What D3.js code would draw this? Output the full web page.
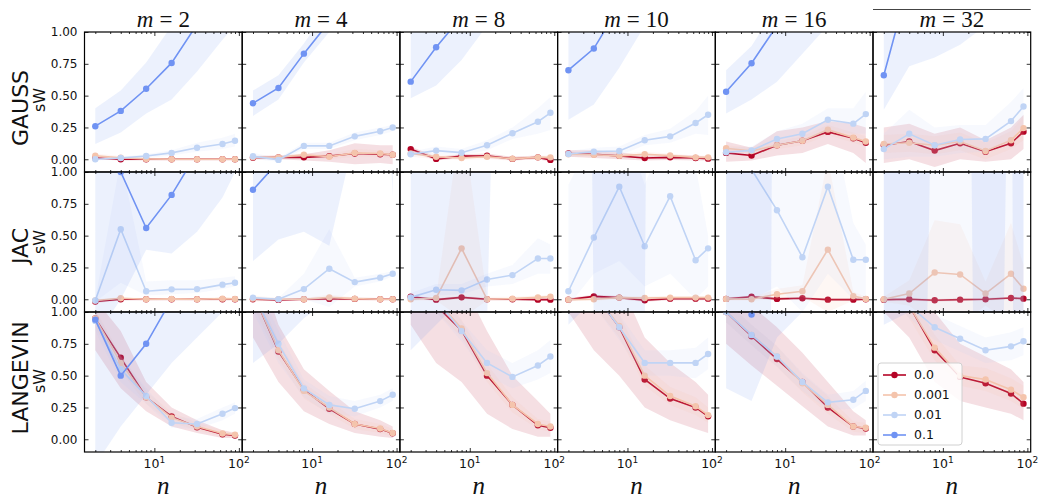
<!DOCTYPE html>
<html>
<head>
<meta charset="utf-8">
<script src="https://cdn.jsdelivr.net/npm/d3@7"></script>
<style>
  body { margin: 0; background: #fff; }
  svg { font-family: "DejaVu Sans", sans-serif; }
</style>
</head>
<body>
<svg id="chart" width="1045" height="501"></svg>
<script>
// sample sizes on the x axis and the panel layout
const ns = [2, 4, 8, 16, 32, 64, 90];
const ms = [2, 4, 8, 10, 16, 32];
const methods = ["GAUSS", "JAC", "LANGEVIN"];
const noiseLevels = ["0.0", "0.001", "0.01", "0.1"];
const seriesColors = ["#b40426", "#f4c4ac", "#c0d4f5", "#7093f3"];
const yTicks = [0, 0.25, 0.5, 0.75, 1.0];
const xMajor = [10, 100];
const xMajorLabels = [["10", "1"], ["10", "2"]];
const xMinor = [2, 3, 4, 5, 6, 7, 8, 9, 20, 30, 40, 50, 60, 70, 80, 90];

// sW means and band bounds: [m][noise level][n]
const gaussMean = [
  [[0.01,0,0,0,0,0,0],[0.028,0.012,0.003,0,0,0,0],[0,0.01,0.026,0.05,0.09,0.12,0.145],[0.26,0.38,0.554,0.757,1.06,1.4,1.7]],
  [[0.012,0.015,0.015,0.025,0.045,0.04,0.035],[0.015,0.015,0.035,0.02,0.05,0.045,0.035],[0.024,-0.005,0.105,0.105,0.18,0.22,0.25],[0.44,0.56,0.83,1.08,1.4,1.8,2.1]],
  [[0.08,0.003,0.025,0.028,0.003,0.015,-0.005],[0.045,0.02,0.01,0.02,0.005,0.015,0.015],[0.04,0.068,0.052,0.11,0.205,0.295,0.365],[0.61,0.88,1.12,1.4,1.7,2.0,2.2]],
  [[0.045,0.04,0.027,0.01,0.015,0.01,0.005],[0.04,0.035,0.027,0.04,0.03,0.015,0.015],[0.042,0.06,0.065,0.15,0.18,0.285,0.35],[0.70,0.87,1.2,1.4,1.7,2.0,2.2]],
  [[0.05,0.03,0.11,0.145,0.215,0.165,0.13],[0.087,0.065,0.11,0.145,0.233,0.17,0.14],[0.055,0.07,0.16,0.2,0.31,0.28,0.355],[0.53,0.755,1.05,1.35,1.7,2.0,2.2]],
  [[0.11,0.14,0.068,0.126,0.06,0.126,0.217],[0.12,0.13,0.11,0.14,0.065,0.15,0.245],[0.08,0.2,0.11,0.155,0.16,0.3,0.415],[0.66,1.4,1.5,1.8,2.0,2.2,2.4]]
];
const gaussLow = [
  [[0,-0.01,-0.01,-0.01,-0.01,-0.01,-0.01],[0.01,0,-0.005,-0.01,-0.01,-0.01,-0.01],[-0.01,0,0.01,0.03,0.06,0.08,0.1],[0.12,0.21,0.36,0.47,0.69,0.94,1.05]],
  [[0,0,-0.01,-0.02,-0.04,-0.03,-0.04],[0,0,0.02,0,0.02,0.02,0.01],[0,-0.02,0.08,0.08,0.15,0.19,0.22],[0.34,0.47,0.76,1.0,1.2,1.5,1.8]],
  [[0.06,-0.01,0.01,0.01,-0.01,0,-0.02],[0.02,0,-0.005,0,-0.01,0,0],[0.02,0.04,0.03,0.07,0.16,0.2,0.23],[0.48,0.58,0.78,1.05,1.3,1.6,1.8]],
  [[0.02,0.01,0,-0.01,-0.005,-0.01,-0.01],[0.02,0.015,0.01,0.02,0.015,0,0],[0.02,0.03,0.03,0.11,0.13,0.2,0.19],[0.31,0.43,0.72,1.05,1.3,1.6,1.8]],
  [[-0.02,-0.01,0.03,0.05,0.12,0.05,-0.03],[0.06,0.04,0.08,0.11,0.19,0.13,0.1],[0.03,0.05,0.1,0.14,0.22,0.2,0.2],[0.36,0.47,0.61,0.83,1.05,1.3,1.5]],
  [[-0.03,0,-0.06,0,-0.02,0,0.08],[0.05,0.06,0.04,0.07,0,0.08,0.15],[0,0.02,0.02,0.05,0.06,0.15,0.28],[0.39,0.73,0.8,0.9,1.05,1.2,1.4]]
];
const gaussHigh = [
  [[0.02,0.01,0.01,0.01,0.01,0.01,0.01],[0.045,0.025,0.012,0.01,0.01,0.01,0.01],[0.01,0.02,0.04,0.07,0.13,0.17,0.2],[0.40,0.54,0.76,1.05,1.4,1.8,2.1]],
  [[0.025,0.03,0.04,0.07,0.125,0.11,0.11],[0.03,0.03,0.05,0.04,0.08,0.07,0.06],[0.05,0.01,0.13,0.13,0.21,0.25,0.27],[0.54,0.66,0.91,1.2,1.6,2.1,2.4]],
  [[0.1,0.02,0.04,0.045,0.02,0.03,0.01],[0.07,0.04,0.025,0.04,0.02,0.03,0.03],[0.06,0.1,0.08,0.15,0.25,0.4,0.49],[0.99,1.25,1.5,1.8,2.1,2.4,2.6]],
  [[0.07,0.07,0.055,0.03,0.035,0.03,0.02],[0.06,0.055,0.045,0.06,0.045,0.03,0.03],[0.065,0.09,0.1,0.19,0.24,0.38,0.5],[1.1,1.3,1.5,1.8,2.1,2.4,2.6]],
  [[0.14,0.09,0.22,0.25,0.3,0.28,0.25],[0.11,0.09,0.14,0.18,0.27,0.21,0.18],[0.09,0.1,0.22,0.28,0.4,0.4,0.53],[0.70,0.89,1.2,1.5,1.9,2.2,2.5]],
  [[0.25,0.28,0.2,0.25,0.15,0.25,0.35],[0.19,0.2,0.18,0.21,0.13,0.22,0.34],[0.2,0.39,0.25,0.27,0.27,0.45,0.56],[1.5,1.8,2.0,2.2,2.4,2.6,2.8]]
];

const jacMean = [
  [[-0.018,0,0,0,0,0,0],[-0.01,0.008,0,0.003,0,0.005,0.003],[-0.01,0.55,0.063,0.078,0.08,0.115,0.13],[1.3,1.0,0.56,0.82,1.15,1.3,1.4]],
  [[0,-0.005,0,0.003,0.003,0,0],[0.005,0,0,0.015,0.005,0,0],[0.013,0,0.08,0.24,0.135,0.17,0.2],[0.86,1.08,1.3,1.5,1.7,3.3,2.0]],
  [[0.02,-0.003,0.015,0,0,-0.003,-0.003],[0,0.01,0.4,0,0.005,0.015,0.02],[0.015,0.075,0.07,0.155,0.19,0.32,0.32],[1.5,2.0,2.5,3.0,10,11,12]],
  [[-0.003,0.023,0.013,-0.008,0.005,0.005,0.005],[-0.003,0,0.013,0.01,0.013,0.013,0.013],[0.063,0.485,0.885,0.417,0.81,0.307,0.4],[21,1.5,1.5,1.5,31,32,33]],
  [[0.003,0.02,0.003,0.008,-0.003,-0.003,0],[0.003,0,0.04,0.063,0.39,0.025,0.003],[1.2,1.02,0.7,0.33,0.885,0.31,0.31],[1.5,1.5,10,11,12,13,14]],
  [[-0.003,0,-0.008,-0.003,0,0.01,0.005],[0,0.045,0.21,0.195,0.045,0.2,0.083],[1.3,1.5,1.6,1.7,1.8,1.9,2.0],[2,2,5,11,2,5,2]]
];
const jacLow = [
  [[-0.03,-0.01,-0.01,-0.01,-0.01,-0.01,-0.01],[-0.02,0,-0.01,-0.005,-0.01,-0.005,-0.005],[-0.02,0.13,0.03,0.04,0.05,0.08,0.1],[-0.3,0,0.39,0.36,0.53,0.8,1.0]],
  [[-0.01,-0.015,-0.01,-0.007,-0.007,-0.01,-0.01],[-0.02,-0.01,-0.01,-0.005,-0.005,-0.01,-0.01],[0,-0.01,0,-0.06,0.1,0.14,0.18],[0.3,0.47,0.53,0.42,1.29,3.0,0.8]],
  [[0.01,-0.013,0.005,-0.01,-0.01,-0.013,-0.013],[-0.01,-0.01,-0.15,-0.01,-0.01,0,0],[-0.02,0.03,0.04,0.1,0.12,0.2,0.2],[-0.3,-0.3,-0.3,-0.2,8,9,10]],
  [[-0.015,0.01,0,-0.02,-0.008,-0.008,-0.008],[-0.015,-0.012,0,-0.003,0,0,0],[-0.05,0.2,0.3,0.1,0.2,0,0.1],[20,-0.3,-0.3,-0.3,30,31,32]],
  [[-0.007,0.01,-0.007,-0.002,-0.013,-0.013,-0.01],[-0.01,-0.01,0,0.02,-0.1,-0.01,-0.01],[0,0,0.1,-0.1,0.2,0,0],[-0.3,-30,9,10,11,12,13]],
  [[-0.013,-0.01,-0.018,-0.013,-0.01,0,-0.005],[-0.02,-0.05,-0.2,-0.2,-0.05,-0.2,-0.1],[-0.3,-0.3,-0.3,-0.3,-0.3,-0.3,-0.3],[-0.3,-8,3.1,10,-10,3.75,-20]]
];
const jacHigh = [
  [[-0.005,0.01,0.01,0.01,0.01,0.01,0.01],[0,0.016,0.01,0.01,0.01,0.015,0.01],[0,1.1,0.14,0.15,0.15,0.17,0.18],[2.5,2.2,1.3,1.5,1.8,2.0,2.2]],
  [[0.01,0.005,0.01,0.013,0.013,0.01,0.01],[0.03,0.01,0.01,0.035,0.015,0.01,0.01],[0.02,0.01,0.2,0.55,0.17,0.2,0.22],[1.8,2.0,2.2,2.4,2.6,3.5,3.2]],
  [[0.03,0.007,0.025,0.01,0.01,0.007,0.007],[0.01,0.02,1.45,0.02,0.02,0.03,0.035],[0.05,0.12,0.12,0.2,0.27,0.48,0.43],[3,4,5,6,12,13,14]],
  [[0.01,0.035,0.025,0.005,0.018,0.018,0.018],[0.01,0.012,0.025,0.023,0.025,0.025,0.025],[0.9,1.3,1.5,0.9,1.4,1.05,0.5],[22,3.3,3.3,3.3,32,33,34]],
  [[0.013,0.03,0.013,0.018,0.007,0.007,0.01],[0.02,0.015,0.08,0.11,1.1,0.06,0.02],[2.0,2.0,1.5,1.2,1.6,0.6,0.43],[3.3,3.3,12,13,14,15,16]],
  [[0.007,0.01,0.002,0.007,0.01,0.02,0.015],[0.02,0.15,0.62,0.59,0.14,0.6,0.27],[3,3,3,3,3,3,3],[5,12,8,12,14,8,24]]
];

const langevinMean = [
  [[0.95,0.64,0.33,0.18,0.095,0.04,0.03],[0.95,0.6,0.33,0.17,0.1,0.045,0.035],[0.93,0.55,0.34,0.13,0.12,0.2,0.245],[0.94,0.5,0.75,1.1,1.3,1.5,1.7]],
  [[1.15,0.69,0.39,0.24,0.12,0.08,0.047],[1.15,0.7,0.38,0.25,0.12,0.085,0.05],[1.15,0.75,0.4,0.27,0.24,0.3,0.35],[1.5,1.7,1.9,2.1,2.3,2.5,2.6]],
  [[1.4,1.05,0.855,0.5,0.27,0.11,0.09],[1.4,1.1,0.87,0.52,0.27,0.12,0.1],[1.4,1.1,0.85,0.6,0.49,0.58,0.65],[2.0,2.2,2.4,2.6,2.8,3.0,3.1]],
  [[1.5,1.15,0.88,0.47,0.32,0.25,0.18],[1.5,1.15,0.89,0.5,0.34,0.26,0.19],[1.5,1.15,0.88,0.6,0.6,0.6,0.67],[2.0,2.2,2.4,2.6,2.8,3.0,3.1]],
  [[1.0,0.81,0.63,0.45,0.25,0.1,0.085],[1.0,0.82,0.65,0.44,0.27,0.1,0.09],[1.0,0.82,0.65,0.45,0.29,0.31,0.38],[1.3,0.98,1.4,1.7,2.0,2.2,2.4]],
  [[1.3,1.05,0.7,0.49,0.44,0.36,0.28],[1.3,1.05,0.72,0.5,0.47,0.39,0.33],[1.3,1.05,0.88,0.79,0.7,0.73,0.77],[2.0,2.2,2.4,2.6,2.8,3.0,3.1]]
];
const langevinLow = [
  [[0.7,0.4,0.22,0.1,0.05,0.01,0.01],[0.88,0.54,0.28,0.13,0.07,0.02,0.015],[0.85,0.45,0.28,0.09,0.08,0.15,0.2],[-0.2,0.1,0.35,0.6,0.8,1.0,1.2]],
  [[0.8,0.45,0.22,0.12,0.05,0.02,0.01],[1.05,0.63,0.32,0.2,0.08,0.05,0.02],[1.0,0.6,0.33,0.2,0.18,0.25,0.3],[0.6,0.75,0.95,1.1,1.3,1.5,1.6]],
  [[0.9,0.6,0.45,0.2,0.08,0.02,0.02],[1.3,1.0,0.8,0.45,0.21,0.08,0.06],[1.3,1.0,0.77,0.5,0.4,0.47,0.52],[0.7,0.9,1.1,1.3,1.5,1.7,1.8]],
  [[1.0,0.7,0.5,0.25,0.15,0.08,0.05],[1.4,1.05,0.8,0.42,0.27,0.19,0.13],[1.4,1.05,0.78,0.5,0.5,0.48,0.55],[0.9,1.1,1.3,1.5,1.7,1.9,2.0]],
  [[0.75,0.58,0.42,0.26,0.1,0.03,0.03],[0.92,0.74,0.57,0.37,0.2,0.06,0.05],[0.92,0.74,0.57,0.38,0.23,0.24,0.3],[0.4,0.3,0.8,1.0,1.3,1.5,1.6]],
  [[1.0,0.8,0.45,0.3,0.25,0.2,0.15],[1.2,0.95,0.62,0.42,0.38,0.3,0.24],[1.2,0.95,0.78,0.69,0.6,0.62,0.66],[0.9,1.0,1.1,1.3,1.5,1.7,1.8]]
];
const langevinHigh = [
  [[1.1,0.85,0.45,0.25,0.15,0.07,0.05],[1.02,0.66,0.38,0.21,0.13,0.07,0.055],[1.0,0.65,0.4,0.18,0.16,0.25,0.29],[2.0,2.0,2.0,2.0,2.2,2.4,2.6]],
  [[1.5,0.9,0.55,0.38,0.22,0.15,0.1],[1.25,0.77,0.44,0.3,0.16,0.12,0.08],[1.3,0.85,0.47,0.34,0.3,0.35,0.4],[3,3,3,3,3.3,3.5,3.6]],
  [[1.9,1.5,1.25,0.85,0.5,0.3,0.2],[1.5,1.2,0.94,0.59,0.33,0.16,0.14],[1.5,1.2,0.93,0.7,0.6,0.7,0.78],[3.3,3.5,3.7,3.9,4.1,4.3,4.4]],
  [[2.0,1.6,1.25,0.8,0.6,0.45,0.35],[1.6,1.25,0.98,0.58,0.41,0.33,0.25],[1.6,1.25,0.98,0.7,0.7,0.72,0.8],[3.3,3.5,3.7,3.9,4.1,4.3,4.4]],
  [[1.25,1.05,0.88,0.68,0.45,0.22,0.15],[1.08,0.9,0.73,0.51,0.34,0.14,0.13],[1.08,0.9,0.73,0.52,0.35,0.38,0.46],[2.5,2.5,2.5,2.7,3.0,3.2,3.4]],
  [[1.6,1.3,1.0,0.75,0.65,0.55,0.45],[1.4,1.15,0.82,0.58,0.56,0.48,0.42],[1.4,1.15,0.98,0.89,0.8,0.84,0.88],[3.3,3.5,3.7,3.9,4.1,4.3,4.4]]
];

const rowData = [
  { mean: gaussMean, low: gaussLow, high: gaussHigh },
  { mean: jacMean, low: jacLow, high: jacHigh },
  { mean: langevinMean, low: langevinLow, high: langevinHigh }
];

// geometry of the panel grid
const left0 = 84.5, colW = 157.7, top0 = 32, rowH = 140;
const serif = "Liberation Serif, Times New Roman, serif";
const svg = d3.select("#chart");

const x = d3.scaleLog().domain([1.49, 109.5]).range([0, colW]);
const y = d3.scaleLinear().domain([-0.1, 1.0]).range([rowH, 0]);

const line = d3.line().x((d, i) => x(ns[i])).y(d => y(d));

const defs = svg.append("defs");
defs.append("clipPath").attr("id", "panel-clip")
  .append("rect").attr("x", 0).attr("y", 0).attr("width", colW).attr("height", rowH);

methods.forEach((method, r) => {
  ms.forEach((m, c) => {
    const g = svg.append("g")
      .attr("transform", `translate(${left0 + c * colW},${top0 + r * rowH})`);
    const plot = g.append("g").attr("clip-path", "url(#panel-clip)");
    const data = rowData[r];

    noiseLevels.forEach((lvl, s) => {
      const mean = data.mean[c][s], lo = data.low[c][s], hi = data.high[c][s];
      const area = d3.area()
        .x((d, i) => x(ns[i]))
        .y0((d, i) => y(lo[i]))
        .y1((d, i) => y(hi[i]));
      plot.append("path").datum(mean)
        .attr("d", area)
        .attr("fill", seriesColors[s])
        .attr("fill-opacity", 0.13)
        .attr("stroke", "none");
      plot.append("path").datum(mean)
        .attr("d", line)
        .attr("fill", "none")
        .attr("stroke", seriesColors[s])
        .attr("stroke-width", 1.6);
      plot.selectAll(null).data(mean).enter().append("circle")
        .attr("cx", (d, i) => x(ns[i]))
        .attr("cy", d => y(d))
        .attr("r", 3.2)
        .attr("fill", seriesColors[s]);
    });

    // ticks pointing into the panel on all four sides
    const tickStyle = sel => {
      sel.select(".domain").remove();
      sel.selectAll("line").attr("stroke", "#000").attr("stroke-width", 0.8);
    };
    g.append("g").attr("transform", `translate(0,${rowH})`)
      .call(d3.axisBottom(x).tickValues(xMajor).tickSize(-4).tickFormat(() => "")).call(tickStyle);
    g.append("g").attr("transform", `translate(0,${rowH})`)
      .call(d3.axisBottom(x).tickValues(xMinor).tickSize(-2).tickFormat(() => "")).call(tickStyle);
    g.append("g")
      .call(d3.axisTop(x).tickValues(xMajor).tickSize(-4).tickFormat(() => "")).call(tickStyle);
    g.append("g")
      .call(d3.axisTop(x).tickValues(xMinor).tickSize(-2).tickFormat(() => "")).call(tickStyle);
    const yAx = g.append("g")
      .call(d3.axisLeft(y).tickValues(yTicks).tickSize(-4).tickPadding(7)
        .tickFormat(c === 0 ? d3.format(".2f") : () => ""));
    yAx.call(tickStyle);
    yAx.attr("font-family", "DejaVu Sans");
    yAx.selectAll("text").attr("font-size", 12).attr("fill", "#111");
    g.append("g").attr("transform", `translate(${colW},0)`)
      .call(d3.axisRight(y).tickValues(yTicks).tickSize(-4).tickFormat(() => "")).call(tickStyle);

    g.append("rect")
      .attr("width", colW).attr("height", rowH)
      .attr("fill", "none").attr("stroke", "#000").attr("stroke-width", 1.2);

    if (r === methods.length - 1) {
      xMajor.forEach((v, k) => {
        const t = g.append("text")
          .attr("x", x(v)).attr("y", rowH + 16)
          .attr("text-anchor", "middle").attr("font-size", 12.5).attr("fill", "#111");
        t.append("tspan").text(xMajorLabels[k][0]);
        t.append("tspan").attr("dy", -5).attr("font-size", 9).text(xMajorLabels[k][1]);
      });
      g.append("text")
        .attr("x", colW / 2).attr("y", rowH + 42)
        .attr("text-anchor", "middle")
        .attr("font-family", serif)
        .attr("font-style", "italic")
        .attr("font-size", 25).attr("fill", "#111")
        .text("n");
    }

    if (r === 0) {
      const t = g.append("text")
        .attr("x", colW / 2).attr("y", -5)
        .attr("text-anchor", "middle")
        .attr("font-family", serif)
        .attr("font-size", 23).attr("fill", "#111");
      t.append("tspan").attr("font-style", "italic").text("m");
      t.append("tspan").attr("dx", 6).text("=");
      t.append("tspan").attr("dx", 6).text(m);
    }
  });
});

// row labels
const rowLabelY = [108, 246, 378];
const sWLabelY = [100, 242, 381];
methods.forEach((method, r) => {
  svg.append("text")
    .attr("transform", `translate(28,${rowLabelY[r]}) rotate(-90)`)
    .attr("text-anchor", "middle")
    .attr("font-size", 22).attr("fill", "#111")
    .text(method);
  svg.append("text")
    .attr("transform", `translate(45,${sWLabelY[r]}) rotate(-90)`)
    .attr("text-anchor", "middle")
    .attr("font-size", 16).attr("fill", "#111")
    .text("sW");
});

// thin rule above the last column
svg.append("line")
  .attr("x1", left0 + 5 * colW).attr("x2", left0 + 6 * colW)
  .attr("y1", 9.5).attr("y2", 9.5)
  .attr("stroke", "#444").attr("stroke-width", 1);

// legend in the bottom-right panel
const legend = svg.append("g").attr("transform", "translate(878,363)");
legend.append("rect")
  .attr("width", 84).attr("height", 82).attr("rx", 3)
  .attr("fill", "#fff").attr("fill-opacity", 0.85)
  .attr("stroke", "#d0d0d0").attr("stroke-width", 1);
noiseLevels.forEach((lvl, s) => {
  const ly = 12 + s * 20;
  legend.append("line")
    .attr("x1", 5).attr("x2", 28).attr("y1", ly).attr("y2", ly)
    .attr("stroke", seriesColors[s]).attr("stroke-width", 1.6);
  legend.append("circle").attr("cx", 16.5).attr("cy", ly).attr("r", 3.2)
    .attr("fill", seriesColors[s]);
  legend.append("text")
    .attr("x", 36).attr("y", ly).attr("dy", "0.35em")
    .attr("font-size", 12.5).attr("fill", "#111")
    .text(lvl);
});
</script>
</body>
</html>
